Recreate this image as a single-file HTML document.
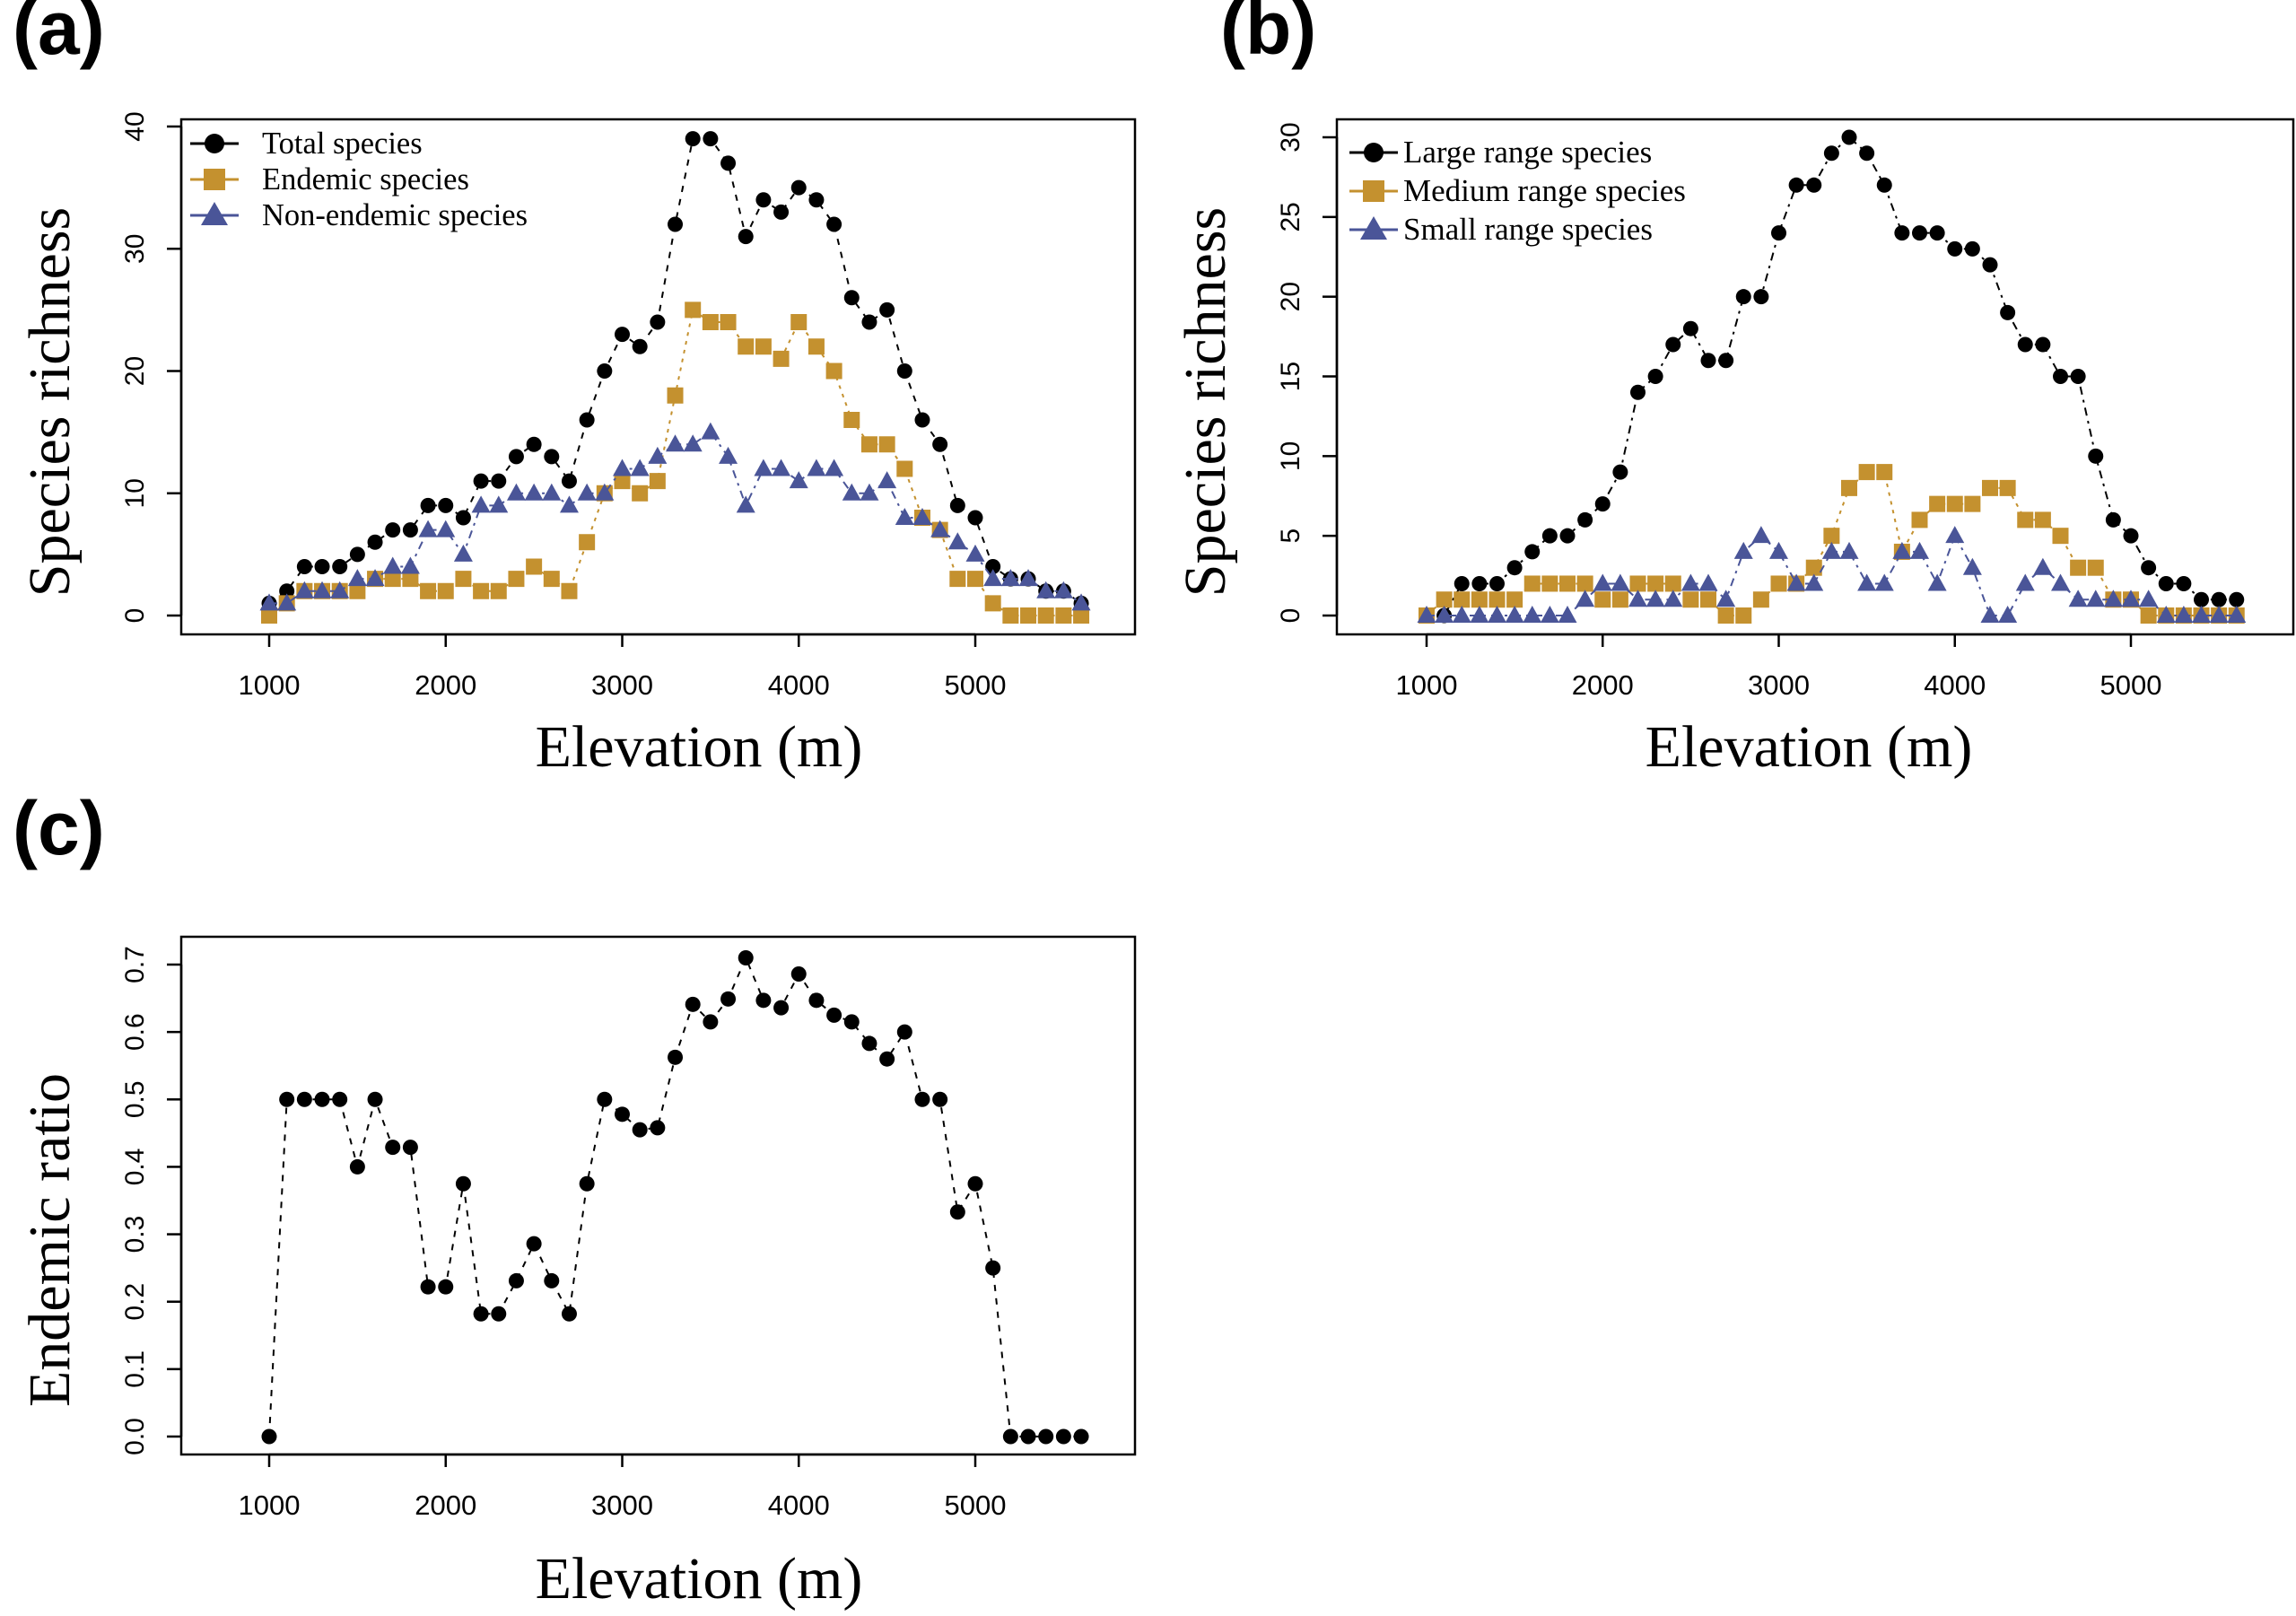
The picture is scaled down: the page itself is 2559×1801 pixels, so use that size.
<!DOCTYPE html>
<html><head><meta charset="utf-8"><style>
html,body{margin:0;padding:0;background:#fff;}
svg{display:block;}
.t{font-family:"Liberation Serif",serif;}
.s{font-family:"Liberation Sans",sans-serif;}
</style></head><body>
<svg id="fig" width="2559" height="1801" viewBox="0 0 2559 1801" xmlns="http://www.w3.org/2000/svg"></svg>
<script>
const elevations=[1000,1100,1200,1300,1400,1500,1600,1700,1800,1900,2000,2100,2200,2300,2400,2500,2600,2700,2800,2900,3000,3100,3200,3300,3400,3500,3600,3700,3800,3900,4000,4100,4200,4300,4400,4500,4600,4700,4800,4900,5000,5100,5200,5300,5400,5500,5600];
const totalSpecies=[1,2,4,4,4,5,6,7,7,9,9,8,11,11,13,14,13,11,16,20,23,22,24,32,39,39,37,31,34,33,35,34,32,26,24,25,20,16,14,9,8,4,3,3,2,2,1];
const endemicSpecies=[0,1,2,2,2,2,3,3,3,2,2,3,2,2,3,4,3,2,6,10,11,10,11,18,25,24,24,22,22,21,24,22,20,16,14,14,12,8,7,3,3,1,0,0,0,0,0];
const nonEndemicSpecies=[1,1,2,2,2,3,3,4,4,7,7,5,9,9,10,10,10,9,10,10,12,12,13,14,14,15,13,9,12,12,11,12,12,10,10,11,8,8,7,6,5,3,3,3,2,2,1];
const largeRange=[0,0,2,2,2,3,4,5,5,6,7,9,14,15,17,18,16,16,20,20,24,27,27,29,30,29,27,24,24,24,23,23,22,19,17,17,15,15,10,6,5,3,2,2,1,1,1];
const mediumRange=[0,1,1,1,1,1,2,2,2,2,1,1,2,2,2,1,1,0,0,1,2,2,3,5,8,9,9,4,6,7,7,7,8,8,6,6,5,3,3,1,1,0,0,0,0,0,0];
const smallRange=[0,0,0,0,0,0,0,0,0,1,2,2,1,1,1,2,2,1,4,5,4,2,2,4,4,2,2,4,4,2,5,3,0,0,2,3,2,1,1,1,1,1,0,0,0,0,0];
const endemicRatio=[0,0.5,0.5,0.5,0.5,0.4,0.5,0.429,0.429,0.222,0.222,0.375,0.182,0.182,0.231,0.286,0.231,0.182,0.375,0.5,0.478,0.455,0.458,0.5625,0.641,0.615,0.649,0.71,0.647,0.636,0.686,0.647,0.625,0.615,0.583,0.56,0.6,0.5,0.5,0.333,0.375,0.25,0,0,0,0,0];
const xTicks=[1000,2000,3000,4000,5000];
const yTicksA=[0,10,20,30,40];
const yTicksB=[0,5,10,15,20,25,30];
const yTicksC=[0,0.1,0.2,0.3,0.4,0.5,0.6,0.7];
const yTickLabelsC=["0.0","0.1","0.2","0.3","0.4","0.5","0.6","0.7"];

const NS="http://www.w3.org/2000/svg";
const svg=document.getElementById('fig');
const GOLD="#C4912F", BLUE="#4A5598";
function mk(tag,attrs,parent){const e=document.createElementNS(NS,tag);for(const k in attrs)e.setAttribute(k,attrs[k]);(parent||svg).appendChild(e);return e;}
function lin(d0,d1,r0,r1){return v=>r0+(v-d0)*(r1-r0)/(d1-d0);}

function marker(g,type,x,y,col){
  let m;
  if(type==='c'){m=mk('circle',{cx:x,cy:y,r:8.5,fill:col},g);}
  else if(type==='s'){m=mk('rect',{x:x-9,y:y-9,width:18,height:18,fill:col},g);}
  else {m=mk('polygon',{points:`${x},${y-11} ${x-10.5},${y+8} ${x+10.5},${y+8}`,fill:col},g);}
  return m;
}

function panel(cfg){
  const g=mk('g',{});
  
  
  const fr=mk('rect',{x:cfg.L,y:cfg.T,width:cfg.R-cfg.L,height:cfg.B-cfg.T,fill:'none',stroke:'#000','stroke-width':2.5},g);
  
  
  const X=lin(1000,5000,cfg.x1000,cfg.x5000);
  const Y=lin(cfg.yd0,cfg.yd1,cfg.y0,cfg.y1);
  const xa=mk('g',{},g);
  
  
  mk('line',{x1:X(xTicks[0]),x2:X(xTicks[xTicks.length-1]),y1:cfg.B,y2:cfg.B,stroke:'#000','stroke-width':2.5},xa);
  xTicks.forEach(v=>{
    mk('line',{x1:X(v),x2:X(v),y1:cfg.B,y2:cfg.B+14,stroke:'#000','stroke-width':2.5},xa);
    const t=mk('text',{x:X(v),y:cfg.B+67,'text-anchor':'middle','font-size':31,class:'s'},xa);
    t.textContent=v;
    
    
  });
  const xt=mk('text',{x:cfg.xtx,y:cfg.B+(cfg.xtOff||147),'text-anchor':'middle','font-size':66,class:'t'},g);
  xt.textContent='Elevation (m)';
  
  
  const ya=mk('g',{},g);
  
  
  mk('line',{x1:cfg.L,x2:cfg.L,y1:Y(cfg.yt[0]),y2:Y(cfg.yt[cfg.yt.length-1]),stroke:'#000','stroke-width':2.5},ya);
  cfg.yt.forEach((v,i)=>{
    const y=Y(v);
    mk('line',{x1:cfg.L-16,x2:cfg.L,y1:y,y2:y,stroke:'#000','stroke-width':2.5},ya);
    const t=mk('text',{x:0,y:0,'text-anchor':'middle','font-size':30,class:'s',transform:`translate(${cfg.L-42},${y}) rotate(-90)`},ya);
    t.textContent=cfg.ytl?cfg.ytl[i]:v;
    
    
  });
  const yt=mk('text',{x:0,y:0,'text-anchor':'middle','font-size':66,class:'t',transform:`translate(${cfg.L-125},${cfg.yty}) rotate(-90)`},g);
  yt.textContent=cfg.ytitle;
  
  
  cfg.series.forEach(s=>{
    const sg=mk('g',{},g);
    
    
    const pts=elevations.map((e,i)=>X(e)+','+Y(s.vals[i])).join(' ');
    mk('polyline',{points:pts,fill:'none',stroke:s.col,'stroke-width':2,'stroke-dasharray':s.dash||'7,8'},sg);
    elevations.forEach((e,i)=>{
      const m=marker(sg,s.type,X(e),Y(s.vals[i]),s.col);
      
      
    });
  });
  if(cfg.legend){
    const lg=mk('g',{},g);
    
    
    cfg.series.forEach((s,i)=>{
      const y=cfg.legend.y+i*cfg.legend.dy;
      const le=mk('g',{},lg);
      
      
      mk('line',{x1:cfg.legend.x-27,x2:cfg.legend.x+27,y1:y,y2:y,stroke:s.col,'stroke-width':3},le);
      if(s.type==='c')mk('circle',{cx:cfg.legend.x,cy:y,r:11,fill:s.col},le);
      else if(s.type==='s')mk('rect',{x:cfg.legend.x-12,y:y-12,width:24,height:24,fill:s.col},le);
      else mk('polygon',{points:`${cfg.legend.x},${y-15} ${cfg.legend.x-15},${y+11} ${cfg.legend.x+15},${y+11}`,fill:s.col},le);
      const t=mk('text',{x:cfg.legend.tx,y:y+11,'font-size':cfg.legend.fs,class:'t'},le);
      t.textContent=s.label;
    });
  }
  const pl=mk('text',{x:cfg.lx,y:cfg.ly,'font-size':84,'font-weight':'bold',class:'s'},g);
  pl.textContent=cfg.letter;
  
  
}

panel({name:'panel-a',letter:'(a)',lx:14,ly:60,L:202,T:133,R:1265,B:707,x1000:300,x5000:1087,yd0:0,yd1:40,y0:686,y1:141,yt:yTicksA,ytitle:'Species richness',xtx:779,yty:448,
  legend:{x:239,tx:292,y:160,dy:40,fs:34.5},
  series:[{name:'series-total',label:'Total species',vals:totalSpecies,col:'#000',type:'c'},
          {name:'series-endemic',label:'Endemic species',vals:endemicSpecies,col:GOLD,type:'s',dash:'4,6'},
          {name:'series-non-endemic',label:'Non-endemic species',vals:nonEndemicSpecies,col:BLUE,type:'t',dash:'9,6,3,6'}]});
panel({name:'panel-b',letter:'(b)',lx:1360,ly:60,L:1490,T:133,R:2556,B:707,x1000:1590,x5000:2375,yd0:0,yd1:30,y0:686,y1:153,yt:yTicksB,ytitle:'Species richness',xtx:2016,yty:448,
  legend:{x:1531,tx:1564,y:170,dy:43,fs:35},
  series:[{name:'series-large-range',label:'Large range species',vals:largeRange,col:'#000',type:'c',dash:'9,6,3,6'},
          {name:'series-medium-range',label:'Medium range species',vals:mediumRange,col:GOLD,type:'s',dash:'4,6'},
          {name:'series-small-range',label:'Small range species',vals:smallRange,col:BLUE,type:'t',dash:'9,6,3,6'}]});
panel({name:'panel-c',letter:'(c)',lx:14,ly:952,L:202,T:1044,R:1265,B:1621,x1000:300,x5000:1087,yd0:0,yd1:0.7,y0:1601,y1:1075,yt:yTicksC,ytl:yTickLabelsC,ytitle:'Endemic ratio',xtOff:160,xtx:779,yty:1382,
  series:[{name:'series-endemic-ratio',label:'Endemic ratio',vals:endemicRatio,col:'#000',type:'c'}]});
</script>
</body></html>
